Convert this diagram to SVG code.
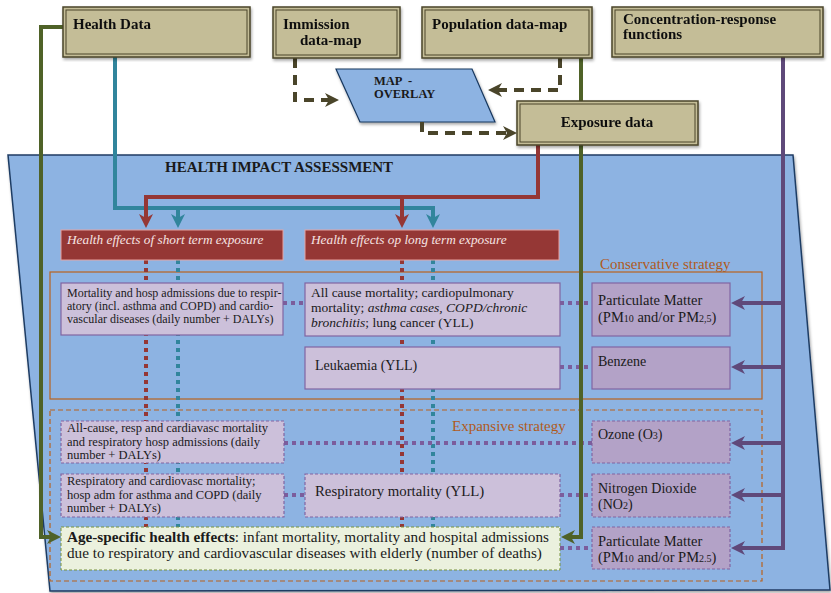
<svg xmlns="http://www.w3.org/2000/svg" width="831" height="593" viewBox="0 0 831 593">
<defs>
<style>
text{font-family:"Liberation Serif","Times New Roman",serif;fill:#1a1a1a}
.tb{font-weight:bold;font-size:15px;fill:#111}
.tan{fill:#c4bd97;stroke:#4a452a;stroke-width:1.5}
.tanin{fill:none;stroke:#4a452a;stroke-width:1}
.red{fill:#953735;stroke:#e6a3a1;stroke-width:1}
.redt{font-style:italic;font-size:13.3px;fill:#f6e3e2}
.lp{fill:#ccc0da;stroke:#8064a2;stroke-width:1.2}
.dp{fill:#b3a2c7;stroke:#8064a2;stroke-width:1.2}
.dash{stroke-dasharray:3 2}
.s12{font-size:12px}
.s125{font-size:12.5px}
.s13{font-size:13.5px}
.s14{font-size:14px}
.s145{font-size:14.5px}
.strat{fill:none;stroke:#b9621d;stroke-width:1.2}
.stratt{font-size:15px;fill:#b05a1c}
.ln{fill:none;stroke-width:4}
.olive{stroke:#4a452a;stroke-dasharray:10 7}
.dotr{fill:none;stroke:#953735;stroke-width:4;stroke-dasharray:4 4}
.dott{fill:none;stroke:#31859c;stroke-width:4;stroke-dasharray:4 4}
.dotp{fill:none;stroke:#7b5d9c;stroke-width:4;stroke-dasharray:4 4}
</style>
<filter id="sh" x="-5%" y="-5%" width="110%" height="115%">
<feDropShadow dx="1" dy="2" stdDeviation="1.5" flood-color="#000" flood-opacity="0.35"/>
</filter>
<marker id="aR" markerUnits="userSpaceOnUse" markerWidth="16" markerHeight="16" refX="8" refY="7" orient="auto"><path d="M0,0 L14,7 L0,14 L4,7 z" fill="#953735"/></marker>
<marker id="aT" markerUnits="userSpaceOnUse" markerWidth="16" markerHeight="16" refX="8" refY="7" orient="auto"><path d="M0,0 L14,7 L0,14 L4,7 z" fill="#31859c"/></marker>
<marker id="aG" markerUnits="userSpaceOnUse" markerWidth="16" markerHeight="16" refX="8" refY="7" orient="auto"><path d="M0,0 L14,7 L0,14 L4,7 z" fill="#4f6228"/></marker>
<marker id="aP" markerUnits="userSpaceOnUse" markerWidth="16" markerHeight="16" refX="8" refY="7" orient="auto"><path d="M0,0 L14,7 L0,14 L4,7 z" fill="#5f497a"/></marker>
<marker id="aO" markerUnits="userSpaceOnUse" markerWidth="16" markerHeight="16" refX="8" refY="7" orient="auto"><path d="M0,0 L14,7 L0,14 L4,7 z" fill="#4a452a"/></marker>
</defs>

<g id="hia">
<polygon points="8,155 793,155 830,590 50,591" fill="#8db3e2" stroke="#1f3c64" stroke-width="1.5" filter="url(#sh)"/>
<text x="165" y="172" style="font-weight:bold;font-size:15px">HEALTH IMPACT ASSESSMENT</text>
</g>

<g id="conservative-strategy">
<rect x="50" y="272" width="712" height="127" class="strat"/>
<text x="600" y="269" class="stratt">Conservative strategy</text>
</g>
<g id="expansive-strategy">
<rect x="50" y="410" width="712" height="171" class="strat" stroke-dasharray="5 3"/>
<text x="452" y="431" class="stratt">Expansive strategy</text>
</g>

<g id="connectors-back">
<path class="dotr" d="M146,260 V527"/>
<path class="dott" d="M178,260 V527"/>
<path class="dotr" d="M402,260 V527"/>
<path class="dott" d="M433,260 V527"/>
</g>

<g id="short-term">
<rect x="61" y="230" width="222" height="30" class="red"/>
<text x="67" y="244" class="redt">Health effects of short term exposure</text>
</g>
<g id="long-term">
<rect x="305" y="230" width="254" height="30" class="red"/>
<text x="311" y="244" class="redt">Health effects op long term exposure</text>
</g>

<g id="short-conservative">
<rect x="61" y="283" width="222" height="52" class="lp"/>
<text class="s12"><tspan x="67" y="297">Mortality and hosp admissions due to respir-</tspan><tspan x="67" y="310">atory (incl. asthma and COPD) and cardio-</tspan><tspan x="67" y="323">vascular diseases (daily number + DALYs)</tspan></text>
</g>
<g id="long-conservative">
<rect x="305" y="283" width="255" height="53" class="lp"/>
<text class="s13"><tspan x="311" y="297">All cause mortality; cardiopulmonary</tspan><tspan x="311" y="312">mortality; <tspan font-style="italic">asthma cases, COPD/chronic</tspan></tspan><tspan x="311" y="327"><tspan font-style="italic">bronchitis</tspan>; lung cancer (YLL)</tspan></text>
</g>
<g id="leukaemia">
<rect x="305" y="347" width="255" height="42" class="lp"/>
<text x="315" y="370" class="s14">Leukaemia (YLL)</text>
</g>
<g id="pm-conservative">
<rect x="592" y="283" width="138" height="53" class="dp"/>
<text class="s145"><tspan x="598" y="305">Particulate Matter</tspan><tspan x="598" y="322">(PM<tspan font-size="10">10</tspan> and/or PM<tspan font-size="10">2,5</tspan>)</tspan></text>
</g>
<g id="benzene">
<rect x="592" y="347" width="138" height="42" class="dp"/>
<text x="598" y="366" class="s14">Benzene</text>
</g>

<g id="short-expansive-1">
<rect x="61" y="421" width="223" height="42" class="lp dash"/>
<text class="s125"><tspan x="67" y="432">All-cause, resp and cardiavasc mortality</tspan><tspan x="67" y="446">and respiratory hosp admissions (daily</tspan><tspan x="67" y="459">number + DALYs)</tspan></text>
</g>
<g id="short-expansive-2">
<rect x="61" y="474" width="223" height="43" class="lp dash"/>
<text class="s125"><tspan x="67" y="485">Respiratory and cardiovasc mortality;</tspan><tspan x="67" y="499">hosp adm for asthma and COPD (daily</tspan><tspan x="67" y="512">number + DALYs)</tspan></text>
</g>
<g id="respiratory-mortality">
<rect x="305" y="474" width="255" height="43" class="lp dash"/>
<text x="315" y="496" style="font-size:14.8px">Respiratory mortality (YLL)</text>
</g>
<g id="ozone">
<rect x="592" y="421" width="138" height="42" class="dp dash"/>
<text x="598" y="439" class="s14">Ozone (O<tspan font-size="10">3</tspan>)</text>
</g>
<g id="no2">
<rect x="592" y="474" width="138" height="43" class="dp dash"/>
<text class="s14"><tspan x="598" y="493">Nitrogen Dioxide</tspan><tspan x="598" y="509">(NO<tspan font-size="10">2</tspan>)</tspan></text>
</g>
<g id="pm-expansive">
<rect x="592" y="527" width="138" height="42" class="dp dash"/>
<text class="s145"><tspan x="598" y="546">Particulate Matter</tspan><tspan x="598" y="562">(PM<tspan font-size="10">10</tspan> and/or PM<tspan font-size="10">2.5</tspan>)</tspan></text>
</g>
<g id="age-specific">
<rect x="61" y="527" width="499" height="43" fill="#ebf1de" stroke="#76923c" stroke-width="1" stroke-dasharray="3 2"/>
<text style="font-size:15.2px"><tspan x="67" y="542"><tspan font-weight="bold">Age-specific health effects</tspan>: infant mortality, mortality and hospital admissions</tspan><tspan x="67" y="558">due to respiratory and cardiovascular diseases with elderly (number of deaths)</tspan></text>
</g>

<g id="map-overlay">
<polygon points="336,69 472,69 495,122 360,122" fill="#8db3e2" stroke="#17375e" stroke-width="1.2" filter="url(#sh)"/>
<text x="374" y="85" style="font-weight:bold;font-size:12.5px" xml:space="preserve">MAP  -</text>
<text x="374" y="98" style="font-weight:bold;font-size:12.5px">OVERLAY</text>
</g>

<g id="connectors">
<path class="dotp" d="M283,303 H305"/>
<path class="dotp" d="M560,303 H592"/>
<path class="dotp" d="M560,367 H592"/>
<path class="dotp" d="M284,443 H592"/>
<path class="dotp" d="M284,495 H305"/>
<path class="dotp" d="M560,495 H592"/>
<path class="dotp" d="M560,548 H592"/>
<path class="ln olive" d="M295,58 V100 H333" marker-end="url(#aO)"/>
<path class="ln olive" d="M560,58 V90 H494" marker-end="url(#aO)"/>
<path class="ln olive" d="M422,122 V133 H511" marker-end="url(#aO)"/>
<path class="ln" stroke="#31859c" d="M115,57 V208 H433 V222" marker-end="url(#aT)"/>
<path class="ln" stroke="#31859c" d="M178,208 V222" marker-end="url(#aT)"/>
<path class="ln" stroke="#953735" d="M538,145 V197 H146 V222" marker-end="url(#aR)"/>
<path class="ln" stroke="#953735" d="M402,197 V222" marker-end="url(#aR)"/>
<path class="ln" stroke="#4f6228" d="M63,27 H41 V537 H55" marker-end="url(#aG)"/>
<path class="ln" stroke="#4f6228" d="M581,58 V537 H567" marker-end="url(#aG)"/>
<path class="ln" stroke="#5f497a" d="M783,57 V548 H737" marker-end="url(#aP)"/>
<path class="ln" stroke="#5f497a" d="M783,303 H737" marker-end="url(#aP)"/>
<path class="ln" stroke="#5f497a" d="M783,367 H737" marker-end="url(#aP)"/>
<path class="ln" stroke="#5f497a" d="M783,443 H737" marker-end="url(#aP)"/>
<path class="ln" stroke="#5f497a" d="M783,495 H737" marker-end="url(#aP)"/>
</g>

<g id="health-data" filter="url(#sh)">
<rect x="63" y="7" width="187" height="50" class="tan"/>
<rect x="66" y="10" width="181" height="44" class="tanin"/>
<text x="73" y="29" class="tb">Health Data</text>
</g>
<g id="immission" filter="url(#sh)">
<rect x="273" y="7" width="127" height="51" class="tan"/>
<rect x="276" y="10" width="121" height="45" class="tanin"/>
<text x="283" y="29" class="tb">Immission</text>
<text x="300" y="45" class="tb">data-map</text>
</g>
<g id="population" filter="url(#sh)">
<rect x="422" y="7" width="170" height="51" class="tan"/>
<rect x="425" y="10" width="164" height="45" class="tanin"/>
<text x="432" y="29" class="tb">Population data-map</text>
</g>
<g id="concentration-response" filter="url(#sh)">
<rect x="612" y="7" width="211" height="50" class="tan"/>
<rect x="615" y="10" width="205" height="44" class="tanin"/>
<text x="623" y="24" class="tb">Concentration-response</text>
<text x="623" y="39" class="tb">functions</text>
</g>
<g id="exposure" filter="url(#sh)">
<rect x="517" y="101" width="181" height="44" class="tan"/>
<rect x="520" y="104" width="175" height="38" class="tanin"/>
<text x="607" y="127" class="tb" text-anchor="middle">Exposure data</text>
</g>
</svg>
